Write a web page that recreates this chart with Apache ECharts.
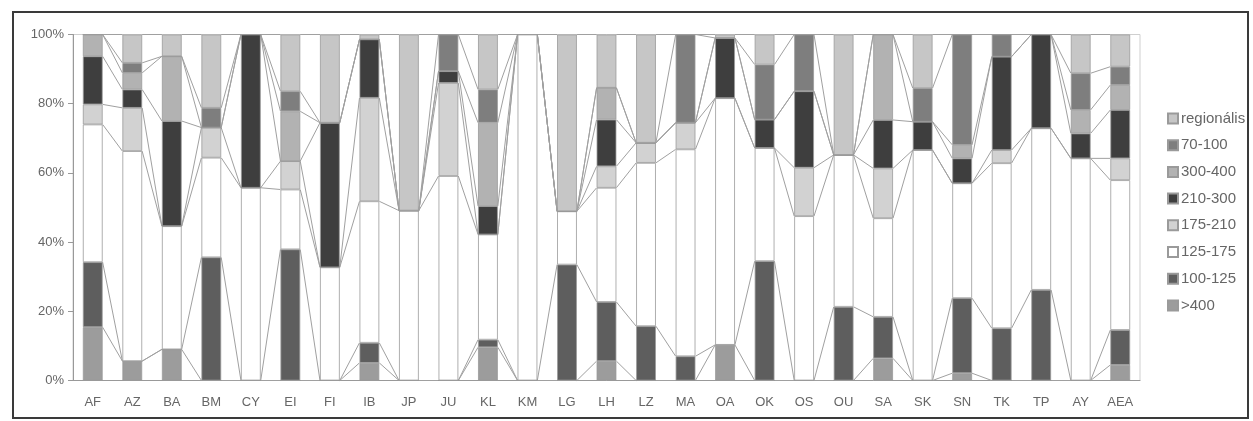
<!DOCTYPE html>
<html>
<head>
<meta charset="utf-8">
<script src="https://cdn.jsdelivr.net/npm/echarts@6/dist/echarts.min.js"></script>
<style>
html,body{margin:0;padding:0;background:#fff;}
#c{width:1253px;height:421px;}
</style>
</head>
<body>
<div id="c"></div>
<script>
// Categories
var categories = ['AF','AZ','BA','BM','CY','EI','FI','IB','JP','JU','KL','KM','LG','LH','LZ','MA','OA','OK','OS','OU','SA','SK','SN','TK','TP','AY','AEA'];
// Series values (% share), stacked bottom -> top
var s_gt400  = [15.4,5.6,9.0,0,0,0,0,5.1,0,0,9.6,0,0,5.6,0,0,10.3,0,0,0,6.4,0,2.1,0,0,0,4.5];
var s_100_125= [18.8,0,0,35.6,0,37.9,0,5.8,0,0,2.2,0,33.5,17.1,15.7,7.0,0,34.5,0,21.3,12,0,21.7,15.1,26.2,0,10.1];
var s_125_175= [39.8,60.7,35.6,28.8,55.7,17.3,32.7,40.9,49.1,59.1,30.4,100,15.4,33,47.2,59.8,71.3,32.7,47.5,43.9,28.5,66.6,33.2,47.7,46.7,64.2,43.3];
var s_175_210= [5.8,12.5,0,8.7,0,8.2,0,29.9,0,26.9,0,0,0,6.2,5.8,7.7,0,0,14,0,14.4,0,0,3.8,0,0,6.3];
var s_210_300= [13.9,5.3,30.4,0,44.3,0,41.8,16.9,0,3.4,8.2,0,0,13.5,0,0,17.4,8.2,22.1,0,14,8.2,7.2,27,27.1,7.2,14];
var s_300_400= [6.3,4.8,18.7,0,0,14.4,0,0,0,0,24.1,0,0,9.2,0,0,0,0,0,0,24.7,0,3.9,0,0,6.8,7.2];
var s_70_100 = [0,2.9,0,5.7,0,5.8,0,0,0,10.6,9.6,0,0,0,0,25.5,0,15.9,16.4,0,0,9.7,31.9,6.4,0,10.6,5.3];
var s_regio  = [0,8.2,6.3,21.2,0,16.4,25.5,1.4,50.9,0,15.9,0,51.1,15.4,31.3,0,1.0,8.7,0,34.8,0,15.5,0,0,0,11.2,9.3];
var yTicks = [0,20,40,60,80,100];

var seriesDefs = [
  {name:'>400',      data:s_gt400,   color:'#9c9c9c'},
  {name:'100-125',   data:s_100_125, color:'#5e5e5e'},
  {name:'125-175',   data:s_125_175, color:'#ffffff'},
  {name:'175-210',   data:s_175_210, color:'#d2d2d2'},
  {name:'210-300',   data:s_210_300, color:'#3e3e3e'},
  {name:'300-400',   data:s_300_400, color:'#b2b2b2'},
  {name:'70-100',    data:s_70_100,  color:'#7e7e7e'},
  {name:'regionális',data:s_regio,   color:'#c6c6c6'}
];
var BAR_FRAC = 0.5;

// cumulative tops for series lines
var n = categories.length;
var cum = seriesDefs.map(function(){return new Array(n);});
for (var k=0;k<n;k++){
  var acc=0;
  for (var j=0;j<seriesDefs.length;j++){ acc += seriesDefs[j].data[k]; cum[j][k]=acc; }
}
var lineData = [];
for (var k=0;k<n-1;k++){
  var row=[k];
  for (var j=0;j<seriesDefs.length;j++) row.push(cum[j][k]);
  for (var j=0;j<seriesDefs.length;j++) row.push(cum[j][k+1]);
  lineData.push(row);
}

var series = seriesDefs.map(function(s){
  return {
    name:s.name, type:'bar', stack:'all', data:s.data, barWidth:(BAR_FRAC*100)+'%',
    itemStyle:{color:s.color, borderColor:'#9a9a9a', borderWidth:0.8},
    emphasis:{disabled:true}, z:2
  };
});
series.push({
  type:'custom', silent:true, z:1, data:lineData, encode:{x:0,y:1},
  renderItem:function(params, api){
    var k = api.value(0);
    var bw = api.size([1,0])[0];
    var half = bw*BAR_FRAC/2;
    var m = seriesDefs.length;
    var children=[];
    for (var j=0;j<m;j++){
      var p1 = api.coord([k, api.value(1+j)]);
      var p2 = api.coord([k+1, api.value(1+m+j)]);
      children.push({type:'line', shape:{x1:p1[0]+half, y1:p1[1], x2:p2[0]-half, y2:p2[1]},
        style:{stroke:'#a0a0a0', lineWidth:1}});
    }
    return {type:'group', children:children};
  }
});

var chart = echarts.init(document.getElementById('c'));
chart.setOption({
  backgroundColor:'#ffffff',
  animation:false,
  textStyle:{fontFamily:'Liberation Sans, Arial, sans-serif'},
  grid:{left:73, right:113, top:34.5, bottom:40.5, show:true, borderColor:'#cfcfcf', borderWidth:1},
  legend:{
    orient:'vertical', left:1162, top:106, itemWidth:10, itemHeight:10, itemGap:11.7,
    icon:'rect',
    data:['regionális','70-100','300-400','210-300','175-210','125-175','100-125','>400'],
    textStyle:{fontSize:15, color:'#666', lineHeight:15, padding:[0,0,0,-2]}
  },
  xAxis:{
    type:'category', data:categories,
    axisLine:{lineStyle:{color:'#999'}},
    axisTick:{show:false},
    axisLabel:{color:'#666', fontSize:13, margin:15, interval:0}
  },
  yAxis:{
    type:'value', min:0, max:100, interval:20,
    axisLine:{show:true, lineStyle:{color:'#999'}},
    axisTick:{show:true, length:5, lineStyle:{color:'#999'}},
    splitLine:{show:false},
    axisLabel:{color:'#666', fontSize:13, margin:9, formatter:function(v){return yTicks.indexOf(v)>=0? v+'%':'';}}
  },
  graphic:[{type:'rect', shape:{x:13,y:12,width:1235,height:406}, style:{fill:null, stroke:'#3a3a3a', lineWidth:2}, z:100}],
  series:series
});
</script>
</body>
</html>
